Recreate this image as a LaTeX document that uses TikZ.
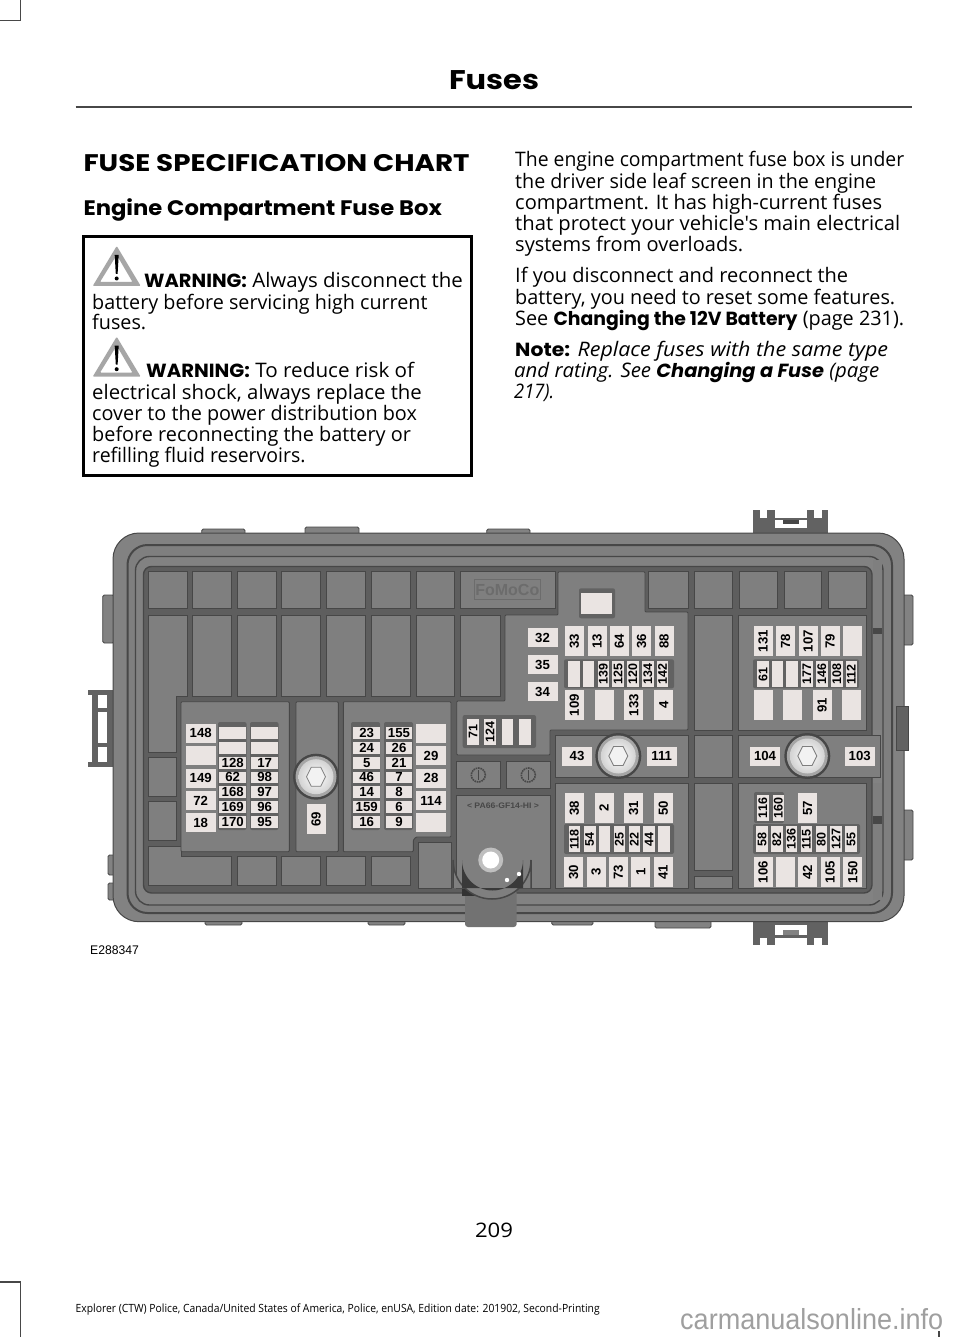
\documentclass[tikz,border=0pt]{standalone}
\usepackage{fontspec}
\usepackage{graphicx}
\setmainfont{Open Sans}
\newfontfamily\opn{Open Sans}
\newfontfamily\hv{Poppins}[BoldFont={Poppins Bold},ItalicFont={Poppins Italic},BoldItalicFont={Poppins Bold Italic}]
\newfontfamily\ar{Liberation Sans}
\definecolor{pan}{HTML}{7F7F7F}
\definecolor{flr}{HTML}{5E5E5E}
\definecolor{lin}{HTML}{474747}
\definecolor{rim}{HTML}{828282}
\definecolor{fusef}{HTML}{EAE4E2}
\definecolor{hold}{HTML}{626262}
\newcounter{nn}
\newcommand{\tl}[4]{\stepcounter{nn}\node[anchor=base west,inner sep=0pt] (t\thenn) at (#1,#2+0.8) {\resizebox{#3pt}{\height}{#4}};}
\newcommand{\bd}[1]{{\hv\bfseries #1}}
\newcommand{\bi}[1]{{\hv\bfseries\itshape #1}}
\tikzset{
  x=1pt,y=-1pt,
  fuse/.style={fill=fusef,draw=none,inner sep=0pt,font=\ar\bfseries\fontsize{13.2}{13.2}\selectfont,text=black,align=center},
  fh/.style={fuse,minimum width=30pt,minimum height=19pt},
  fv/.style={fuse,minimum width=30pt,minimum height=19pt,rotate=90},
  sh/.style={fuse,minimum width=26.5pt,minimum height=11.8pt},
  sv/.style={fuse,minimum width=26pt,minimum height=11.6pt,rotate=90,font=\ar\bfseries\fontsize{12.5}{12.5}\selectfont},
  cell/.style={fill=pan,draw=lin,line width=.9pt},
  holder/.style={fill=hold,draw=none,rounded corners=2pt},
  tab/.style={fill=rim,draw=lin,line width=.8pt},
  body/.style={font=\fontsize{20}{20}\selectfont},
}
\begin{document}
\begin{tikzpicture}
\useasboundingbox (0,0) rectangle (960,1337);
\fill[white] (0,0) rectangle (960,1337);

% crop marks
\draw[draw=lin,line width=1.1pt] (0,20.5) -- (20.5,20.5) -- (20.5,0);
\draw[draw=lin,line width=1.1pt] (0,1282) -- (20.7,1282) -- (20.7,1337);
\draw[draw=lin,line width=1.1pt] (939,1331) -- (939,1337);
% header
\draw[draw=lin,line width=2pt] (75.5,107.5) -- (911.5,107.5);
\node[inner sep=0pt,anchor=base] (hdr) at (494,90) {\resizebox{90pt}{\height}{\fontsize{27}{27}\selectfont\bd{Fuses}}};

% left column text
\tl{83.3}{170.7}{386}{\fontsize{24}{24}\selectfont\bd{FUSE SPECIFICATION CHART}}
\tl{83.3}{215}{358.4}{\fontsize{21}{21}\selectfont\bd{Engine Compartment Fuse Box}}
\node[draw=black,line width=3pt,inner sep=0pt,outer sep=0pt,minimum width=387.5pt,minimum height=239pt,anchor=north west] (warnbox) at (83.5,236.5) {};
\foreach \yy/\nm in {286/wa,376.7/wb}{
  \fill[fill=gray!70,even odd rule,rounded corners=1pt] (92.7,\yy) -- (116.7,\yy-40) -- (140.7,\yy) -- cycle
     (100,\yy-4) -- (132.5,\yy-4) -- (116.7,\yy-31) -- cycle;
  \fill[black] (114.7,\yy-31) -- (118.7,\yy-31) -- (117.6,\yy-12) -- (115.8,\yy-12) -- cycle;
  \fill[black] (116.7,\yy-7.5) circle (2pt);
}
\begin{scope}[body]
\tl{144}{286.7}{318.7}{\bd{\fontsize{19}{19}\selectfont WARNING:} Always disconnect the}
\tl{92}{308.3}{335.3}{battery before servicing high current}
\tl{92}{329}{54}{fuses.}
\tl{146}{377}{268}{\bd{\fontsize{19}{19}\selectfont WARNING:} To reduce risk of}
\tl{92}{398.3}{329.7}{electrical shock, always replace the}
\tl{92}{420}{324.7}{cover to the power distribution box}
\tl{92}{441}{318.7}{before reconnecting the battery or}
\tl{92}{461.7}{213.3}{refilling fluid reservoirs.}
% right column text
\tl{515}{166}{389}{The engine compartment fuse box is under}
\tl{515}{187.7}{361}{the driver side leaf screen in the engine}
\tl{515}{209}{367}{compartment. It has high-current fuses}
\tl{515}{230}{385}{{\opn that protect your vehicle's main electrical}}
\tl{515}{251}{228}{systems from overloads.}
\tl{515}{281.7}{333}{If you disconnect and reconnect the}
\tl{515}{303.3}{380}{battery, you need to reset some features.}
\tl{515}{324.3}{389}{See \bd{\fontsize{19}{19}\selectfont Changing the 12V Battery} (page 231).}
\tl{515}{356}{373}{\bd{\fontsize{19}{19}\selectfont Note:} \textit{Replace fuses with the same type}}
\tl{514}{376.7}{365}{\textit{and rating. See }\bi{\fontsize{19}{19}\selectfont Changing a Fuse} \textit{(page}}
\tl{514}{397.7}{40}{\textit{217).}}
\end{scope}

% ---------- fuse box housing ----------
% side and top tabs
\foreach \a/\b/\c/\d in {102.7/595/114/643, 108/855/118/875, 108/883/118/900, 903/595/913/645, 903/810/913/860,
   305/527/359/536, 655/916/711/928, 201.7/529/245/538, 486.7/529/530/538, 773/528/808/538,
   205/912/242/925, 368/912/405/925, 551.7/912/593/925}{
  \draw[tab,rounded corners=1.5pt] (\a,\b) rectangle (\c,\d);
}
% top clip, right
\fill[fill=hold] (753.3,518) rectangle (828.3,536);
\fill[white] (775,520) rectangle (806.7,528);
\fill[fill=lin] (783,520) rectangle (799,524);
\foreach \a/\c in {753.3/760,767/775,806.7/814,821.5/828.3}{
  \fill[fill=hold] (\a,510) rectangle (\c,519);
}
% bottom clip, right
\fill[fill=hold] (753.3,916) rectangle (828.3,938);
\fill[white] (775,925) rectangle (806.7,935);
\fill[fill=rim] (783,930) rectangle (799,935);
\foreach \a/\c in {753.3/760,767/775,806.7/814,821.5/828.3}{
  \fill[fill=hold] (\a,937) rectangle (\c,945);
}
% left clip
\fill[fill=hold] (88,690) rectangle (113,695);
\fill[fill=hold] (88,762) rectangle (113,767);
\fill[fill=hold] (92,695) rectangle (98,762);
\fill[fill=hold] (107,695) rectangle (114,762);
\fill[fill=lin] (113,708) rectangle (123,747);
\fill[fill=hold] (98,708) rectangle (107,712);
\fill[fill=hold] (98,743) rectangle (107,747);

% nested walls
\draw[fill=rim,draw=lin,line width=1pt,rounded corners=26pt] (113,533) rectangle (904,921.7);
\draw[fill=pan,draw=lin,line width=2pt,rounded corners=20pt] (127.5,545) rectangle (892,913);
\draw[fill=rim,draw=lin,line width=1.4pt,rounded corners=14pt] (135.5,556.5) rectangle (883,905);
\draw[fill=flr,draw=lin,line width=1.4pt,rounded corners=8pt] (143.5,566.5) rectangle (872,893);
\draw[fill=hold,draw=lin,line width=.8pt] (896,706) rectangle (908,750);
\fill[fill=pan] (873,560) rectangle (881.5,730);
\fill[fill=pan] (873,783.3) rectangle (881.5,900);
\fill[fill=lin] (873,628) rectangle (881.5,634);
\fill[fill=lin] (873,816) rectangle (881.5,824);

% cells, top row
\foreach \a/\c in {148.3/187.3,192.7/231.7,237.3/276,281.7/320.7,326.7/365,371/410,416/454,
                   648/688,694/732.7,739.3/777.3,784/821.7,828.3/866}{
  \path[cell] (\a,571.7) rectangle (\c,608.3);
}
\path[cell] (460,571.7) rectangle (555,608.3);
% second row
\foreach \a/\c in {192.7/231.7,237.3/276,281.7/320.7,326.7/365,371/410,416/454,460/500}{
  \path[cell] (\a,615) rectangle (\c,696.7);
}
\path[cell] (148.3,615) -- (187.3,615) -- (187.3,696) -- (176,696) -- (176,752) -- (148.3,752) -- cycle;
\path[cell] (148.3,757) rectangle (176,796);
\path[cell] (148.3,801) rectangle (176,840);
\path[cell] (148.3,846) -- (181,846) -- (181,856.7) -- (231.7,856.7) -- (231.7,885) -- (148.3,885) -- cycle;
\foreach \a/\c in {237.3/276,281.7/320.7,326.7/365,371/410}{
  \path[cell] (\a,856.7) rectangle (\c,885);
}
% fuse panels
\path[cell,rounded corners=1pt] (181,701.7) rectangle (289.3,851.7);
\path[cell,rounded corners=1pt] (296,701.7) rectangle (338.3,851.7);
\path[cell,rounded corners=1pt] (343.3,701.7) -- (451,701.7) -- (451,837) -- (416,837) -- (413.3,840) -- (413.3,851.7) -- (343.3,851.7) -- cycle;
\path[cell] (418,842) -- (451,842) -- (451,888) -- (418,888) -- cycle;
\path[cell,rounded corners=1pt] (505,615) -- (558,615) -- (558,571.7) -- (645,571.7) -- (645,612) -- (688,612) -- (688,730) -- (550,730) -- (550,755) -- (456.7,755) -- (456.7,701) -- (505,701) -- cycle;
\path[cell] (694,615) rectangle (732.7,730);
\path[cell] (738.3,615) rectangle (866,730);
\path[cell] (555,735) rectangle (688,777.3);
\path[cell] (694,735) rectangle (732.7,777.3);
\path[cell] (738.3,735) rectangle (880,777.3);
\path[cell] (555,783.3) rectangle (688,888);
\path[cell] (694.3,783.3) rectangle (732.7,870);
\path[cell] (694.3,876) rectangle (732.7,888);
\path[cell] (738.3,783.3) rectangle (866,888);
\path[cell] (456.7,761.7) rectangle (500,788.3);
\path[cell] (506.7,761.7) rectangle (550,788.3);
\path[cell] (456.7,795) rectangle (550,888);

% FoMoCo
\node[draw=lin!80,line width=1pt,text=lin!80,fill=pan,minimum width=66pt,minimum height=20pt,inner sep=0pt,font=\ar\bfseries\fontsize{16}{16}\selectfont] (fomoco) at (507.3,589.5) {FoMoCo};

% screw marks
\foreach \cx in {478.3,528.3}{
  \draw[draw=lin,line width=1.6pt,dash pattern=on 1.6pt off .8pt] (\cx,775) circle (7pt);
  \draw[draw=lin,line width=1pt] (\cx,770) -- (\cx,780);
}
% PA66 label
\node[text=lin,inner sep=0pt] (pa) at (503,806) {\resizebox{72pt}{\height}{\ar\bfseries\fontsize{8}{8}\selectfont < PA66-GF14-HI >}};
% boss with tab
\fill[fill=hold!90!white,rounded corners=3pt] (465,890) -- (516.7,890) -- (516.7,927) -- (465,927) -- cycle;
\fill[fill=lin!70!black] (461.7,889) rectangle (500,896);
\draw[fill=pan,draw=lin,line width=1.5pt] (453,888) -- (453,860) arc[start angle=180,end angle=0,radius=39] -- (531,888);
\fill[fill=lin!80!black] (462,888) -- (462,860) arc[start angle=180,end angle=0,radius=30.5] -- (523,888) -- cycle;
\fill[fill=gray!50] (490.7,860) circle (12.5pt);
\fill[white] (490.7,860) circle (8.5pt);
\fill[white] (507,880) circle (2.2pt);
\fill[white] (519,874) circle (2.2pt);

% bolts
\foreach \bx/\by/\bn in {316/776.7/bolta,618.3/756/boltb,807.3/756/boltc}{
  \fill[fill=lin] (\bx,\by) circle (23pt);
  \fill[fill=gray!70] (\bx,\by) circle (20.5pt);
  \shade[inner color=white,outer color=gray!35] (\bx,\by) circle (17.5pt);
  \draw[draw=lin!70,line width=.8pt,fill=gray!10]
     (\bx+9.5,\by) -- (\bx+4.75,\by+9.5) -- (\bx-4.75,\by+9.5) -- (\bx-9.5,\by) -- (\bx-4.75,\by-9.5) -- (\bx+4.75,\by-9.5) -- cycle;
}

% holders
\foreach \a/\b/\c/\d in {218/722/246.5/830, 250/722/278.5/830, 351/722/380/830, 384/722/413/830,
   462.7/715/536/748, 564/659.3/674/688.3, 564/824/674/854, 753/659.3/859/688.3, 754/792/784/823, 753/824/860/854}{
  \fill[holder] (\a,\b) rectangle (\c,\d);
}
% top little fuse
\fill[holder] (579,588.3) rectangle (615,618.3);
\node[fuse,minimum width=31pt,minimum height=21pt] (ftop) at (596.7,603.4) {};

% large horizontal
\foreach \n/\cx/\cy in {148/200.7/733,/200.7/755.3,149/200.7/778,72/200.7/800.7,18/200.7/822.7,
  /431/733,29/431/755.5,28/431/778,114/431/800.7,/431/822.7,
  32/542.5/637.5,35/542.5/664.8,34/542.5/691.8,43/577/756.3,111/661.7/756.3,104/765/756.3,103/859.7/756.3}{
  \node[fh] (h\cx-\cy) at (\cx,\cy) {\n};
}
% small horizontal
\foreach \n/\cx/\cy in {/232.7/733,/232.7/747.8,128/232.7/762.6,62/232.7/777.4,168/232.7/792.2,169/232.7/807,170/232.7/821.8,
  /264.7/733,/264.7/747.8,17/264.7/762.6,98/264.7/777.4,97/264.7/792.2,96/264.7/807,95/264.7/821.8,
  23/366.7/733,24/366.7/747.8,5/366.7/762.6,46/366.7/777.4,14/366.7/792.2,159/366.7/807,16/366.7/821.8,
  155/399/733,26/399/747.8,21/399/762.6,7/399/777.4,8/399/792.2,6/399/807,9/399/821.8}{
  \node[sh] (s\cx-\cy) at (\cx,\cy) {\n};
}
% large vertical
\foreach \n/\cx/\cy in {69/316/819,
  33/574.3/641.3,13/597/641.3,64/619.3/641.3,36/641.7/641.3,88/664/641.3,
  109/574.3/705.3,/604/705.3,133/633.8/705.3,4/663.8/705.3,
  38/574.3/808,2/604/808,31/633.7/808,50/663.3/808,
  30/573.7/872,3/596/872,73/618.3/872,1/640.7/872,41/663/872,
  131/763.2/641.3,78/785.5/641.3,107/808/641.3,79/830/641.3,/852.2/641.3,
  /763.2/705.3,/792.5/705.3,91/822/705.3,/851.8/705.3,
  57/807.7/808,
  106/763/872,/785.5/872,42/807.5/872,105/830/872,150/852.7/872}{
  \node[fv] (v\cx-\cy) at (\cx,\cy) {\n};
}
% small vertical
\foreach \n/\cx/\cy in {71/473/731.7,124/490/731.7,/507.5/731.7,/525/731.7,
  /573.7/674.3,/588.5/674.3,139/603.3/674.3,125/618.1/674.3,120/632.9/674.3,134/647.7/674.3,142/662.5/674.3,
  118/574.3/839.2,54/589.7/839.2,/604.3/839.2,25/619.3/839.2,22/634.3/839.2,44/649/839.2,/663.7/839.2,
  61/763/674.3,/777.3/674.3,/792/674.3,177/806.7/674.3,146/821.7/674.3,108/836.7/674.3,112/851.3/674.3,
  116/762.7/808,160/778.3/808,
  58/762/839.2,82/776.7/839.2,136/791.3/839.2,115/806.3/839.2,80/821.3/839.2,127/836/839.2,55/851/839.2}{
  \node[sv] (w\cx-\cy) at (\cx,\cy) {\n};
}

% caption
\node[anchor=base west,inner sep=0pt] (ecode) at (90,954) {\resizebox{48.7pt}{\height}{\ar\fontsize{12.5}{12.5}\selectfont E288347}};
% footer
\node[anchor=base,inner sep=0pt] (pageno) at (494,1237) {\resizebox{38pt}{\height}{\fontsize{20}{20}\selectfont 209}};
\tl{75.5}{1312}{524}{\fontsize{11.3}{11.3}\selectfont Explorer (CTW) Police, Canada/United States of America, Police, enUSA, Edition date: 201902, Second-Printing}
% watermark
\node[anchor=base west,inner sep=0pt,text=gray!75] (wm) at (680,1329) {\resizebox{263pt}{\height}{\ar\fontsize{29}{29}\selectfont carmanualsonline.info}};
\end{tikzpicture}
\end{document}
